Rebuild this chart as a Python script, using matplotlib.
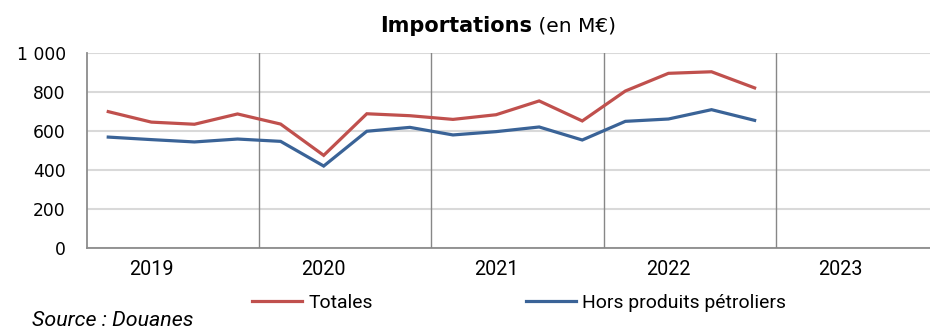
import matplotlib
matplotlib.use("Agg")
import matplotlib.pyplot as plt
from matplotlib.lines import Line2D

# Quarterly imports, in millions of euros
years = ["2019", "2020", "2021", "2022", "2023"]
quarters_per_year = [4, 4, 4, 4, 4]
totales = [700, 646, 635, 688, 636, 475, 689, 679,
           660, 684, 755, 652, 806, 897, 905, 822]
hors_petrole = [569, 556, 544, 559, 547, 420, 599, 619,
                580, 597, 621, 554, 650, 662, 710, 655]
yticks = [0, 200, 400, 600, 800, 1000]
ytick_labels = ["0", "200", "400", "600", "800", "1 000"]
series_names = ["Totales", "Hors produits pétroliers"]

RED = "#C0504D"
BLUE = "#3A6397"
GRID = "#D9D9D9"
SEP = "#878787"

MAIN = ["DejaVu Sans"]
SMALL = ["Roboto", "DejaVu Sans"]

fig = plt.figure(figsize=(9.30, 3.29), dpi=100)
fig.canvas.draw()
renderer = fig.canvas.get_renderer()


def fit_size(text, width_px, **kw):
    """Font size giving the requested rendered width."""
    t = fig.text(0, 0, text, fontsize=10, **kw)
    w = t.get_window_extent(renderer).width
    t.remove()
    return 10 * width_px / w


ax = fig.add_axes([86.7 / 930, 81.3 / 329, 1 - 86.7 / 930, 194.4 / 329])

x = list(range(len(totales)))
ax.plot(x, totales, color=RED, lw=2.3, solid_joinstyle="miter", zorder=4)
ax.plot(x, hors_petrole, color=BLUE, lw=2.3, solid_joinstyle="miter", zorder=4)

# Year boundaries; each year label sits on its second quarter
bounds = []
label_pos = []
start = 0
for n in quarters_per_year:
    label_pos.append(start + 1)
    start += n
    bounds.append(start - 0.5)
for b in bounds[:-1]:
    ax.axvline(b, color=SEP, lw=1.0, zorder=3)

year_size = fit_size("2023", 44, family=SMALL)

ax.set_xlim(-0.5, 19.07)
ax.set_ylim(0, 1000)
ax.set_yticks(yticks)
ax.set_yticklabels(ytick_labels, family=MAIN, fontsize=12.3)
ax.set_xticks(label_pos)
ax.set_xticklabels(years, family=SMALL, fontsize=year_size)
ax.tick_params(axis="y", length=0, pad=15)
ax.tick_params(axis="x", length=0, pad=9)
ax.yaxis.grid(True, color=GRID, lw=1.5, zorder=1)
ax.set_axisbelow(True)

for s in ["top", "right"]:
    ax.spines[s].set_visible(False)
for s in ["left", "bottom"]:
    ax.spines[s].set_color("#8C8C8C")
    ax.spines[s].set_linewidth(1.3)

# Title: bold part followed by regular part, centred as a whole
t1 = fig.text(0, 0.921, "Importations", fontsize=15.0, fontweight="bold",
              family=MAIN, va="center", ha="left")
t2 = fig.text(0, 0.921, " (en M€)", fontsize=14.5, family=MAIN,
              va="center", ha="left")
w1 = t1.get_window_extent(renderer).width
w2 = t2.get_window_extent(renderer).width
x0 = 498 - (w1 + w2) / 2
t1.set_x(x0 / 930)
t2.set_x((x0 + w1) / 930)

legend_size = 0.5 * (fit_size(series_names[0], 62, family=SMALL)
                     + fit_size(series_names[1], 212, family=SMALL))
em = legend_size * 100 / 72
handles = [Line2D([], [], color=RED, lw=2.3),
           Line2D([], [], color=BLUE, lw=2.3)]
fig.legend(handles, series_names,
           loc="center left", bbox_to_anchor=(252 / 930, 1 - 303 / 329),
           ncol=2, frameon=False, borderpad=0, borderaxespad=0,
           handlelength=50 / em, handletextpad=7 / em,
           columnspacing=152 / em,
           prop={"family": SMALL, "size": legend_size})

source_size = fit_size("Source : Douanes", 161, family=SMALL, style="italic")
fig.text(32 / 930, 1 - 320 / 329, "Source : Douanes", family=SMALL,
         style="italic", fontsize=source_size, va="center", ha="left")

fig.savefig("out.png", dpi=100)
